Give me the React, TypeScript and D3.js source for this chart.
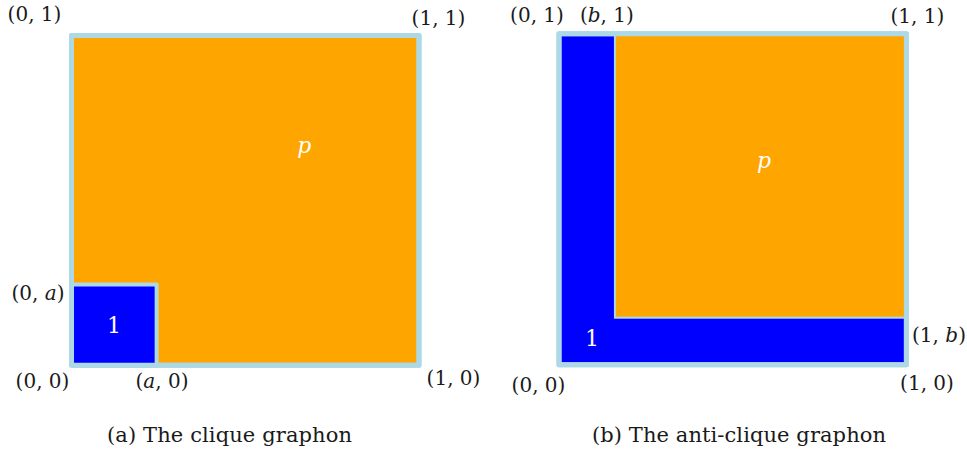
import React from "react";
import * as d3 from "d3";

// ---- data ----
const a = 0.245; // clique block size
const bX = 0.161; // anti-clique strip (horizontal extent)
const bY = 0.142; // anti-clique strip (vertical extent)

const cornerLabelsA = ["(0, 1)", "(1, 1)", "(0, a)", "(0, 0)", "(a, 0)", "(1, 0)"];
const cornerPointsA: [number, number][] = [[0, 1], [1, 1], [0, a], [0, 0], [a, 0], [1, 0]];
const regionLabelsA = ["1", "p"];
const regionPointsA: [number, number][] = [[a / 2, a / 2], [0.67, 0.66]];

const cornerLabelsB = ["(0, 1)", "(b, 1)", "(1, 1)", "(1, b)", "(1, 0)", "(0, 0)"];
const cornerPointsB: [number, number][] = [[0, 1], [bX, 1], [1, 1], [1, bY], [1, 0], [0, 0]];
const regionLabelsB = ["1", "p"];
const regionPointsB: [number, number][] = [[0.095, 0.08], [0.59, 0.61]];

const captions = ["(a) The clique graphon", "(b) The anti-clique graphon"];

// ---- layout / style ----
const W = 967;
const H = 453;
const ORANGE = "#FFA500";
const BLUE = "#0000FF";
const LIGHT = "#ADD8E6";
const FONT = '"DejaVu Serif"';

const xA = d3.scaleLinear().domain([0, 1]).range([71.5, 419]);
const yA = d3.scaleLinear().domain([0, 1]).range([365.2, 35.5]);
const xB = d3.scaleLinear().domain([0, 1]).range([559, 906.4]);
const yB = d3.scaleLinear().domain([0, 1]).range([364.7, 33.7]);

const offsetsA: [number, number][] = [[-37, -14.5], [19.5, -11], [-33.5, 15.7], [-29, 23], [5.4, 23], [34.5, 20]];
const offsetsB: [number, number][] = [[-22, -11.7], [-8, -11.7], [11, -10.7], [32.6, 24], [20.6, 25.3], [-20.5, 27.3]];

const captionPos = [{ x: 229.5, y: 442, len: 245 }, { x: 739, y: 442, len: 294 }];

function rectFrom(
  x: d3.ScaleLinear<number, number>,
  y: d3.ScaleLinear<number, number>,
  x0: number,
  y0: number,
  x1: number,
  y1: number
) {
  return { x: x(x0), y: y(y1), width: x(x1) - x(x0), height: y(y0) - y(y1) };
}

function Label(props: { s: string; x: number; y: number; fill: string; size: number; dy?: number }) {
  const { s, x, y, fill, size, dy = 0 } = props;
  const segs = s.split(/([a-z])/).filter((t) => t.length > 0);
  return (
    <text x={x} y={y + dy} fill={fill} textAnchor="middle" style={{ fontFamily: FONT }} fontSize={size}>
      {segs.map((t, i) =>
        /^[a-z]$/.test(t) ? (
          <tspan key={i} fontStyle="italic">
            {t}
          </tspan>
        ) : (
          t
        )
      )}
    </text>
  );
}

const regionDy = (s: string) => (s === "p" ? 5 : 8);

export default function App() {
  const outerA = rectFrom(xA, yA, 0, 0, 1, 1);
  const blockA = rectFrom(xA, yA, 0, 0, a, a);
  const outerB = rectFrom(xB, yB, 0, 0, 1, 1);
  const blockB = rectFrom(xB, yB, bX, bY, 1, 1);

  return (
    <svg width={W} height={H} style={{ position: "absolute", left: 0, top: 0 }}>
      {/* Panel (a) */}
      <rect {...outerA} fill={ORANGE} stroke={LIGHT} strokeWidth={5} strokeLinejoin="round" />
      <rect {...blockA} fill={BLUE} stroke={LIGHT} strokeWidth={4} strokeLinejoin="round" />
      <rect {...outerA} fill="none" stroke={LIGHT} strokeWidth={5} strokeLinejoin="round" />

      {/* Panel (b) */}
      <rect {...outerB} fill={BLUE} stroke={LIGHT} strokeWidth={5} strokeLinejoin="round" />
      <rect {...blockB} fill={ORANGE} stroke={LIGHT} strokeWidth={2} />
      <rect {...outerB} fill="none" stroke={LIGHT} strokeWidth={5} strokeLinejoin="round" />

      {cornerLabelsA.map((l, i) => (
        <Label
          key={"a" + i}
          s={l}
          size={20}
          fill="#1a1a1a"
          x={xA(cornerPointsA[i][0]) + offsetsA[i][0]}
          y={yA(cornerPointsA[i][1]) + offsetsA[i][1]}
        />
      ))}
      {cornerLabelsB.map((l, i) => (
        <Label
          key={"b" + i}
          s={l}
          size={20}
          fill="#1a1a1a"
          x={xB(cornerPointsB[i][0]) + offsetsB[i][0]}
          y={yB(cornerPointsB[i][1]) + offsetsB[i][1]}
        />
      ))}
      {regionLabelsA.map((l, i) => (
        <Label
          key={"ra" + i}
          s={l}
          size={22}
          dy={regionDy(l)}
          fill="#ffffff"
          x={xA(regionPointsA[i][0])}
          y={yA(regionPointsA[i][1])}
        />
      ))}
      {regionLabelsB.map((l, i) => (
        <Label
          key={"rb" + i}
          s={l}
          size={22}
          dy={regionDy(l)}
          fill="#ffffff"
          x={xB(regionPointsB[i][0])}
          y={yB(regionPointsB[i][1])}
        />
      ))}

      {captions.map((c, i) => (
        <text
          key={"c" + i}
          fill="#1a1a1a"
          textAnchor="middle"
          style={{ fontFamily: FONT }}
          fontSize={21}
          x={captionPos[i].x}
          y={captionPos[i].y}
          textLength={captionPos[i].len}
          lengthAdjust="spacing"
        >
          {c}
        </text>
      ))}
    </svg>
  );
}
